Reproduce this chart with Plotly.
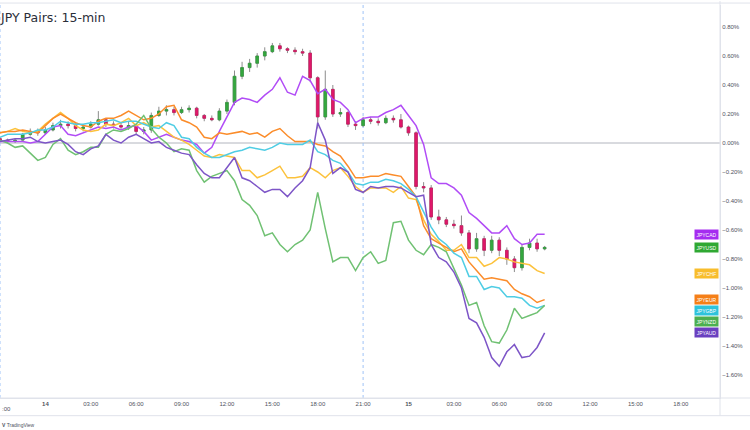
import pandas as pd
import plotly.graph_objects as go

# ---------------- data (percent change, 30-min samples) ----------------
start_time = "2023-03-13 21:00"
n_bars = 73
times = pd.date_range(start_time, periods=n_bars, freq="30min")

usd_open = [0.03, 0.02, 0.01, 0.02, 0.06, 0.08, 0.07, 0.09, 0.12, 0.13, 0.12, 0.10, 0.11, 0.13, 0.16, 0.13, 0.12, 0.11, 0.12, 0.08,
            0.09, 0.19, 0.22, 0.23, 0.21, 0.23, 0.24, 0.19, 0.17, 0.16, 0.22, 0.28, 0.46, 0.52, 0.55, 0.60, 0.63, 0.67, 0.65, 0.64,
            0.63, 0.62, 0.45, 0.18, 0.37, 0.20, 0.21, 0.13, 0.12, 0.16, 0.15, 0.14, 0.17, 0.16, 0.11, 0.07, -0.30, -0.31, -0.51, -0.53,
            -0.56, -0.57, -0.62, -0.73, -0.66, -0.74, -0.67, -0.74, -0.80, -0.86, -0.72, -0.69, -0.73]
usd_high = [0.04, 0.03, 0.03, 0.07, 0.10, 0.10, 0.11, 0.14, 0.16, 0.15, 0.14, 0.13, 0.15, 0.22, 0.17, 0.15, 0.14, 0.15, 0.13, 0.11,
            0.21, 0.25, 0.26, 0.25, 0.25, 0.26, 0.25, 0.20, 0.19, 0.24, 0.30, 0.50, 0.56, 0.58, 0.62, 0.66, 0.69, 0.69, 0.66, 0.66,
            0.65, 0.64, 0.46, 0.50, 0.40, 0.24, 0.22, 0.15, 0.18, 0.18, 0.17, 0.19, 0.19, 0.20, 0.12, 0.08, -0.27, -0.29, -0.46, -0.51,
            -0.53, -0.50, -0.60, -0.62, -0.64, -0.64, -0.65, -0.72, -0.78, -0.70, -0.66, -0.66, -0.71]
usd_low = [0.01, 0.00, 0.00, 0.01, 0.05, 0.05, 0.06, 0.08, 0.10, 0.10, 0.08, 0.08, 0.10, 0.12, 0.11, 0.10, 0.09, 0.09, 0.06, 0.06,
           0.07, 0.18, 0.19, 0.19, 0.20, 0.21, 0.17, 0.15, 0.15, 0.15, 0.20, 0.26, 0.44, 0.49, 0.52, 0.57, 0.62, 0.63, 0.62, 0.61,
           0.60, 0.42, 0.10, 0.16, 0.18, 0.18, 0.11, 0.09, 0.11, 0.13, 0.12, 0.13, 0.14, 0.10, 0.05, -0.32, -0.34, -0.53, -0.56, -0.58,
           -0.59, -0.64, -0.76, -0.75, -0.78, -0.76, -0.78, -0.84, -0.89, -0.88, -0.74, -0.75, -0.74]
usd_close = [0.02, 0.01, 0.02, 0.06, 0.08, 0.07, 0.09, 0.12, 0.13, 0.12, 0.10, 0.11, 0.13, 0.16, 0.13, 0.12, 0.11, 0.12, 0.08, 0.09,
             0.19, 0.22, 0.23, 0.21, 0.23, 0.24, 0.19, 0.17, 0.16, 0.22, 0.28, 0.46, 0.52, 0.55, 0.60, 0.63, 0.67, 0.65, 0.64, 0.63,
             0.62, 0.45, 0.18, 0.37, 0.20, 0.21, 0.13, 0.12, 0.16, 0.15, 0.14, 0.17, 0.16, 0.11, 0.07, -0.30, -0.31, -0.51, -0.53, -0.56,
             -0.57, -0.62, -0.73, -0.66, -0.74, -0.67, -0.74, -0.80, -0.86, -0.72, -0.69, -0.73, -0.72]

jpycad = [0.01, 0.01, 0.01, 0.01, 0.00, 0.01, 0.06, 0.11, 0.12, 0.06, 0.05, 0.07, 0.09, 0.11, 0.10, 0.11, 0.09, 0.11, 0.12, 0.08,
          0.02, 0.04, 0.06, 0.04, 0.02, 0.01, -0.01, -0.07, -0.03, 0.08, 0.18, 0.28, 0.31, 0.30, 0.28, 0.33, 0.37, 0.45, 0.35, 0.33,
          0.46, 0.43, 0.34, 0.37, 0.30, 0.28, 0.23, 0.14, 0.17, 0.18, 0.18, 0.21, 0.23, 0.26, 0.19, 0.12, -0.01, -0.24, -0.28, -0.28,
          -0.31, -0.36, -0.48, -0.52, -0.57, -0.62, -0.62, -0.57, -0.66, -0.70, -0.69, -0.63, -0.63]
jpychf = [0.07, 0.08, 0.10, 0.08, 0.07, 0.08, 0.13, 0.17, 0.21, 0.17, 0.12, 0.09, 0.08, 0.09, 0.13, 0.12, 0.14, 0.17, 0.12, 0.14,
          0.11, 0.12, 0.08, 0.04, 0.02, -0.01, -0.05, -0.09, -0.10, -0.08, -0.09, -0.10, -0.19, -0.19, -0.24, -0.22, -0.19, -0.16, -0.24, -0.24,
          -0.23, -0.17, -0.20, -0.24, -0.19, -0.17, -0.23, -0.30, -0.34, -0.31, -0.31, -0.31, -0.34, -0.30, -0.38, -0.39, -0.53, -0.63, -0.68, -0.74,
          -0.74, -0.70, -0.79, -0.79, -0.85, -0.83, -0.79, -0.80, -0.82, -0.83, -0.84, -0.88, -0.90]
jpyeur = [0.07, 0.08, 0.08, 0.09, 0.08, 0.07, 0.12, 0.17, 0.20, 0.17, 0.14, 0.12, 0.11, 0.15, 0.17, 0.17, 0.19, 0.22, 0.19, 0.16,
          0.17, 0.20, 0.25, 0.26, 0.16, 0.14, 0.11, 0.04, 0.03, 0.07, 0.06, 0.07, 0.08, 0.06, 0.07, 0.04, 0.08, 0.10, 0.05, 0.01,
          0.01, 0.01, -0.01, -0.02, -0.06, -0.09, -0.16, -0.24, -0.24, -0.23, -0.23, -0.21, -0.22, -0.23, -0.30, -0.37, -0.57, -0.66, -0.69, -0.72,
          -0.75, -0.73, -0.82, -0.88, -0.94, -0.93, -0.94, -0.95, -1.01, -1.04, -1.06, -1.10, -1.08]
jpygbp = [0.04, 0.06, 0.06, 0.06, 0.07, 0.09, 0.09, 0.11, 0.15, 0.14, 0.13, 0.13, 0.14, 0.14, 0.15, 0.16, 0.14, 0.15, 0.15, 0.13,
          0.11, 0.10, 0.14, 0.12, 0.04, 0.03, -0.03, -0.07, -0.10, -0.10, -0.08, -0.06, -0.05, -0.03, -0.04, -0.05, -0.03, 0.00, -0.01, -0.01,
          -0.01, 0.02, -0.06, -0.08, -0.12, -0.14, -0.20, -0.28, -0.29, -0.27, -0.27, -0.25, -0.26, -0.28, -0.32, -0.37, -0.48, -0.58, -0.66, -0.70,
          -0.76, -0.79, -0.92, -0.92, -1.01, -0.99, -1.00, -1.06, -1.06, -1.07, -1.12, -1.14, -1.12]
jpynzd = [0.02, 0.00, -0.03, -0.02, -0.07, -0.12, -0.10, -0.01, 0.03, -0.05, -0.08, -0.06, -0.03, -0.03, 0.06, 0.09, 0.08, 0.10, 0.13, 0.19,
          0.10, 0.04, 0.00, -0.06, -0.04, -0.05, -0.19, -0.27, -0.23, -0.21, -0.19, -0.26, -0.39, -0.43, -0.50, -0.64, -0.62, -0.70, -0.75, -0.70,
          -0.67, -0.60, -0.34, -0.59, -0.82, -0.79, -0.79, -0.88, -0.79, -0.75, -0.83, -0.81, -0.55, -0.54, -0.67, -0.74, -0.77, -0.70, -0.72, -0.75,
          -0.86, -0.98, -1.12, -1.10, -1.26, -1.37, -1.38, -1.29, -1.14, -1.21, -1.19, -1.17, -1.12]
jpyaud = [0.01, 0.02, 0.03, 0.03, 0.04, 0.01, 0.00, 0.01, 0.02, -0.01, -0.06, -0.08, -0.04, -0.02, 0.06, 0.02, 0.00, 0.04, 0.06, 0.03,
          0.00, 0.01, -0.03, -0.05, -0.07, -0.08, -0.15, -0.21, -0.24, -0.24, -0.17, -0.10, -0.24, -0.26, -0.30, -0.34, -0.32, -0.32, -0.37, -0.31,
          -0.26, -0.17, 0.14, 0.02, -0.21, -0.17, -0.20, -0.32, -0.34, -0.30, -0.31, -0.30, -0.30, -0.31, -0.34, -0.37, -0.36, -0.70, -0.79, -0.82,
          -0.89, -1.00, -1.21, -1.24, -1.34, -1.48, -1.54, -1.44, -1.39, -1.48, -1.47, -1.41, -1.31]

series_names = ["JPYCAD", "JPYCHF", "JPYEUR", "JPYGBP", "JPYNZD", "JPYAUD"]
series_values = [jpycad, jpychf, jpyeur, jpygbp, jpynzd, jpyaud]
series_colors = ["#b14cf6", "#fcc23c", "#fb8c2a", "#4fcde4", "#70c173", "#7d55c7"]
label_colors = ["#a52cf0", "#f8bd2c", "#f57f17", "#2ec3db", "#4caf50", "#6a40c0"]
usd_label_color = "#2fa832"

y_tick_vals = [0.8, 0.6, 0.4, 0.2, 0.0, -0.2, -0.4, -0.6, -0.8, -1.0, -1.2, -1.4, -1.6]
y_tick_text = ["0.80%", "0.60%", "0.40%", "0.20%", "0.00%", "\u22120.20%", "\u22120.40%", "\u22120.60%",
               "\u22120.80%", "\u22121.00%", "\u22121.20%", "\u22121.40%", "\u22121.60%"]
x_tick_vals = ["2023-03-14 00:00", "2023-03-14 03:00", "2023-03-14 06:00", "2023-03-14 09:00", "2023-03-14 12:00",
               "2023-03-14 15:00", "2023-03-14 18:00", "2023-03-14 21:00", "2023-03-15 00:00", "2023-03-15 03:00",
               "2023-03-15 06:00", "2023-03-15 09:00", "2023-03-15 12:00", "2023-03-15 15:00", "2023-03-15 18:00"]
x_tick_text = ["<b>14</b>", "03:00", "06:00", "09:00", "12:00", "15:00", "18:00", "21:00",
               "<b>15</b>", "03:00", "06:00", "09:00", "12:00", "15:00", "18:00"]
session_breaks = ["2023-03-13 21:00", "2023-03-14 21:00"]

# ---------------- figure ----------------
FONT = "Liberation Sans, Arial, sans-serif"
fig = go.Figure()

# wicks (gray)
fig.add_trace(go.Candlestick(
    x=times, open=usd_open, high=usd_high, low=usd_low, close=usd_close,
    increasing=dict(line=dict(color="#8c8c8c", width=1), fillcolor="#8c8c8c"),
    decreasing=dict(line=dict(color="#8c8c8c", width=1), fillcolor="#8c8c8c"),
    hoverinfo="skip", showlegend=False))
# bodies
body_hi = [max(o, c) for o, c in zip(usd_open, usd_close)]
body_lo = [min(o, c) for o, c in zip(usd_open, usd_close)]
fig.add_trace(go.Candlestick(
    x=times, open=usd_open, high=body_hi, low=body_lo, close=usd_close,
    increasing=dict(line=dict(color="#2e9d39", width=0.6), fillcolor="#35a83f"),
    decreasing=dict(line=dict(color="#d2155f", width=0.6), fillcolor="#e0186b"),
    hoverinfo="skip", showlegend=False))

for name, vals, col in zip(series_names, series_values, series_colors):
    fig.add_trace(go.Scatter(x=times, y=vals, mode="lines", name=name,
                             line=dict(color=col, width=1.5), showlegend=False))

# ---------------- layout ----------------
y_top, y_bot = 0.9517, -1.7586
t0 = pd.Timestamp(start_time)
x_end = t0 + pd.Timedelta(hours=47.59)

fig.update_layout(
    width=750, height=430,
    margin=dict(l=0, r=30, t=5, b=32, autoexpand=False),
    paper_bgcolor="white", plot_bgcolor="white",
    showlegend=False, boxgap=0.5,
    font=dict(family=FONT, color="#50535e"),
    xaxis=dict(type="date", range=[t0, x_end], tickvals=x_tick_vals, ticktext=x_tick_text,
               showgrid=False, zeroline=False, ticks="", showline=True, linecolor="#e0e3eb",
               automargin=False, ticklabeloverflow="allow",
               tickfont=dict(size=6, color="#50535e", family=FONT), rangeslider=dict(visible=False)),
    yaxis=dict(side="right", range=[y_bot, y_top], tickvals=y_tick_vals, ticktext=y_tick_text,
               showgrid=False, zeroline=False, ticks="", showline=True, linecolor="#e0e3eb",
               automargin=False,
               tickfont=dict(size=6, color="#50535e", family=FONT)),
)

# zero line
fig.add_shape(type="line", xref="paper", x0=0, x1=1, yref="y", y0=0, y1=0,
              line=dict(color="#b2b5be", width=1), layer="below")
# session breaks
for sb in session_breaks:
    fig.add_shape(type="line", xref="x", x0=sb, x1=sb, yref="paper", y0=0, y1=1,
                  line=dict(color="#9fc3f7", width=1, dash="dot"), layer="below")
# frame lines
fig.add_shape(type="line", xref="paper", x0=0, x1=1.0417, yref="paper", y0=0, y1=0,
              line=dict(color="#e0e3eb", width=1))
fig.add_shape(type="line", xref="paper", x0=0, x1=1.0417, yref="paper", y0=-0.045, y1=-0.045,
              line=dict(color="#e0e3eb", width=1))
fig.add_shape(type="line", xref="paper", x0=1, x1=1, yref="paper", y0=-0.045, y1=1.01,
              line=dict(color="#e0e3eb", width=1))
fig.add_shape(type="line", xref="paper", x0=0, x1=1.0417, yref="paper", y0=1.005, y1=1.005,
              line=dict(color="#e0e3eb", width=1))

# title
fig.add_annotation(text="JPY Pairs: 15-min", xref="paper", yref="paper", x=-0.003, y=0.969,
                   xanchor="left", yanchor="middle", showarrow=False,
                   font=dict(size=12.5, color="#2a2e39", family="DejaVu Sans, Verdana, sans-serif"))
# clipped first tick label
fig.add_annotation(text=":00", xref="paper", yref="paper", x=0, y=-0.028,
                   xanchor="left", yanchor="middle", showarrow=False,
                   font=dict(size=6, color="#50535e", family=FONT))
# watermark
fig.add_annotation(text="<b>V</b> TradingView", xref="paper", yref="paper", x=0, y=-0.068,
                   xanchor="left", yanchor="middle", showarrow=False,
                   font=dict(size=5, color="#50535e", family=FONT))

# right-side value labels (stacked so they don't overlap)
labels = [("JPYUSD", usd_close[-1], usd_label_color)] + \
         [(n, v[-1], c) for n, v, c in zip(series_names, series_values, label_colors)]
labels.sort(key=lambda t: -t[1])
gap = 11 / 145.0
prev = None
for name, val, col in labels:
    pos = val if prev is None else min(val, prev - gap)
    prev = pos
    fig.add_annotation(text=name, xref="paper", yref="y", x=719 / 720, y=pos,
                       xanchor="right", yanchor="middle", showarrow=False,
                       bgcolor=col, width=22, height=8, borderpad=0.5,
                       font=dict(size=5, color="white", family=FONT))

fig.write_html("out.html", config={"displayModeBar": False},
               post_script="document.body.style.margin='0';document.body.style.overflow='hidden';")
